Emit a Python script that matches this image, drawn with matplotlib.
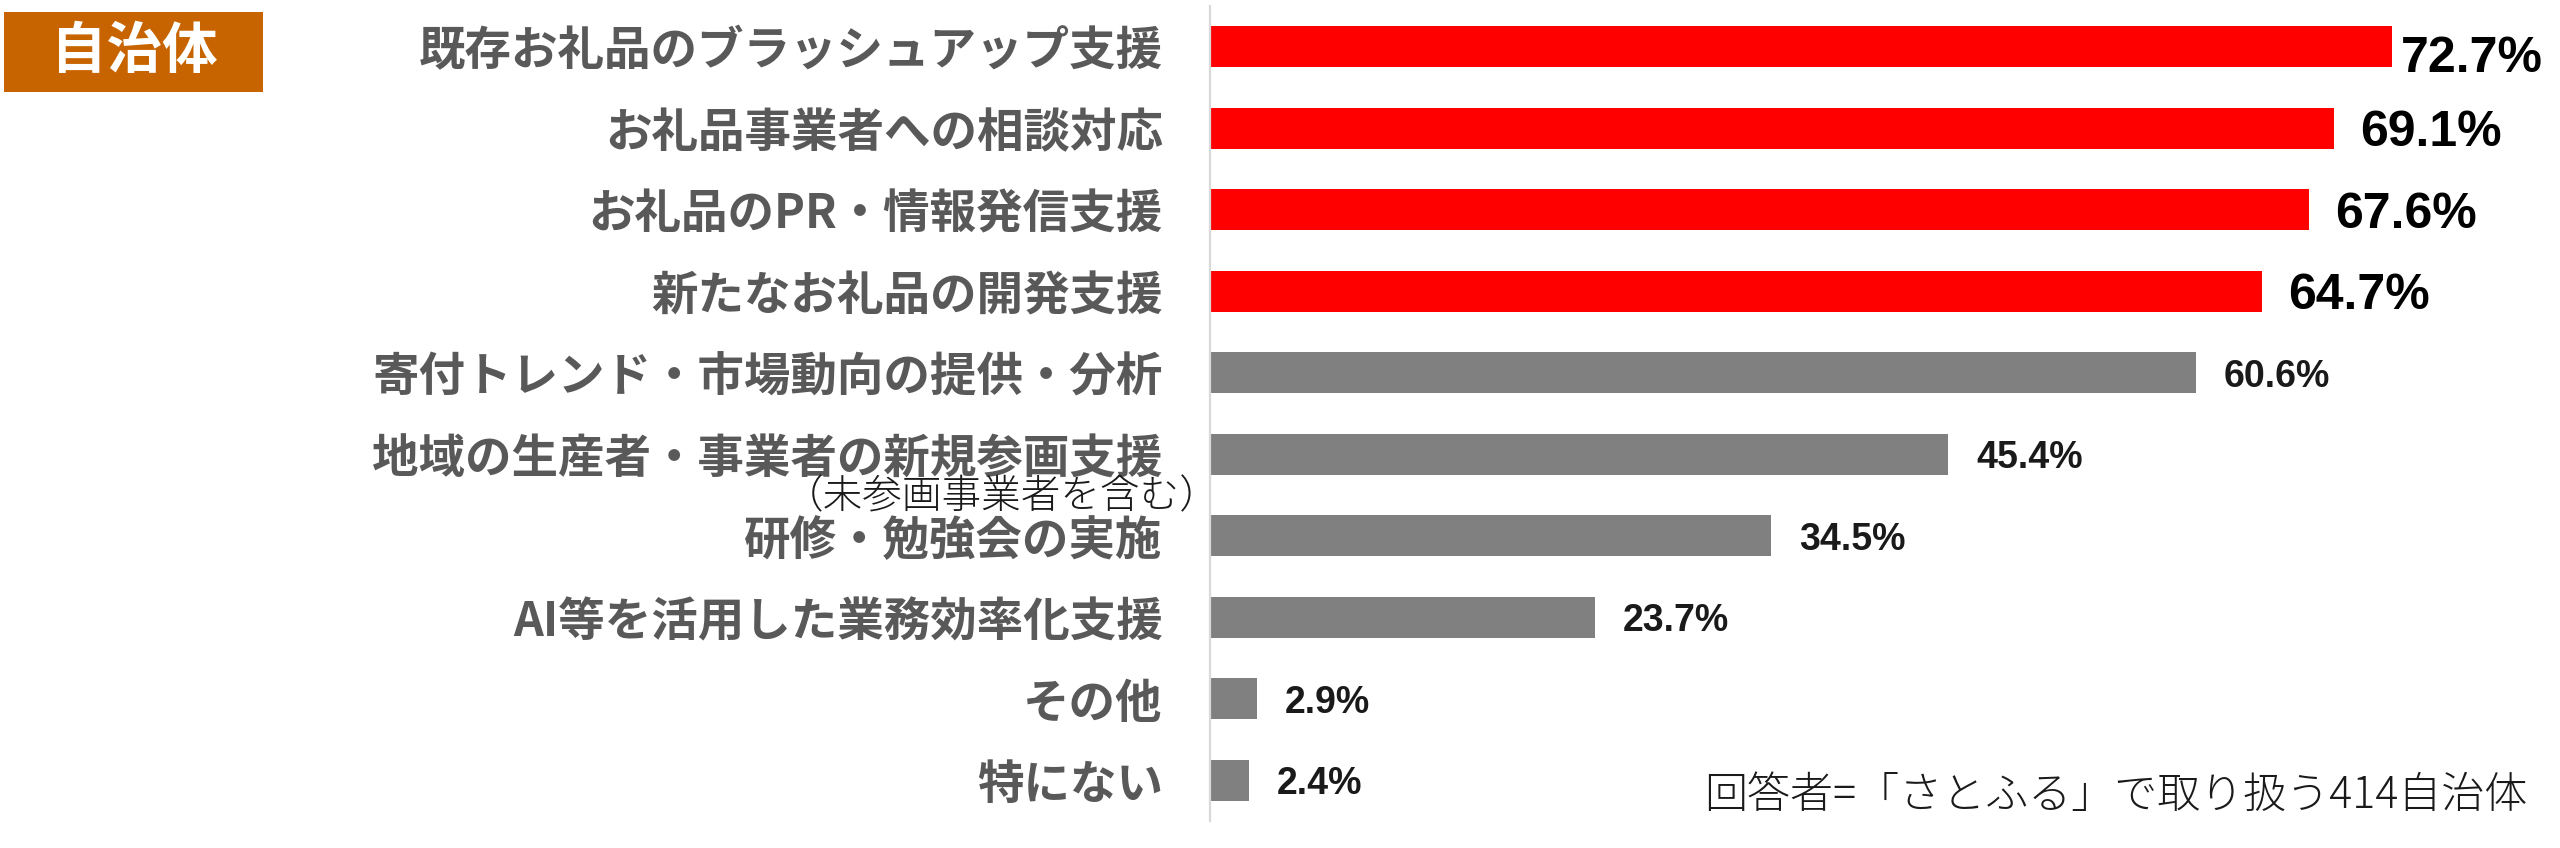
import matplotlib
matplotlib.use("Agg")
import matplotlib.pyplot as plt
from matplotlib.patches import Rectangle

plt.rcParams['font.family'] = ['Noto Sans CJK JP', 'DejaVu Sans']

categories = [
    "既存お礼品のブラッシュアップ支援",
    "お礼品事業者への相談対応",
    "お礼品のPR・情報発信支援",
    "新たなお礼品の開発支援",
    "寄付トレンド・市場動向の提供・分析",
    "地域の生産者・事業者の新規参画支援",
    "研修・勉強会の実施",
    "AI等を活用した業務効率化支援",
    "その他",
    "特にない",
]
values = [72.7, 69.1, 67.6, 64.7, 60.6, 45.4, 34.5, 23.7, 2.9, 2.4]
highlight = [True, True, True, True, False, False, False, False, False, False]
sub_note = "（未参画事業者を含む）"
title_tag = "自治体"
footnote = "回答者=「さとふる」で取り扱う414自治体"

W, H = 2560, 848
fig = plt.figure(figsize=(W / 100, H / 100), dpi=100)
fig.patch.set_facecolor("white")

ax_left, ax_right = 1210 / W, 2511 / W
ax_bottom, ax_top = 1 - 821 / H, 1 - 6 / H
ax = fig.add_axes([ax_left, ax_bottom, ax_right - ax_left, ax_top - ax_bottom])

ypos = list(range(len(categories)))
colors = ["#FF0000" if h else "#808080" for h in highlight]
ax.barh(ypos, values, height=0.5, color=colors, edgecolor="none")

ax.set_xlim(0, 80)
ax.set_ylim(len(categories) - 0.5, -0.5)
ax.set_xticks([])
ax.set_yticks(ypos)
ax.set_yticklabels(categories, fontsize=33.5, fontweight="bold", color="#595959")
ax.tick_params(axis="y", length=0, pad=34)
for s in ["top", "right", "bottom"]:
    ax.spines[s].set_visible(False)
ax.spines["left"].set_color("#D9D9D9")
ax.spines["left"].set_linewidth(1.6)

# sub note under 6th label
ax.annotate(sub_note, xy=(0, 5), xytext=(7, -31), textcoords="offset points",
            ha="right", va="center", fontsize=28.5, color="#1A1A1A",
            fontweight="light", annotation_clip=False)

# value labels
for i, (v, h) in enumerate(zip(values, highlight)):
    txt = f"{v:.1f}%"
    if h:
        dx = 6.5 if i == 0 else 18.7
        dy = -5 if i == 0 else 0
        ax.annotate(txt, xy=(v, i), xytext=(dx, dy), textcoords="offset points",
                    ha="left", va="center_baseline", fontsize=36, fontweight="bold",
                    color="black", family=["Liberation Sans", "DejaVu Sans"],
                    annotation_clip=False)
    else:
        ax.annotate(txt, xy=(v, i), xytext=(20, 0), textcoords="offset points",
                    ha="left", va="center_baseline", fontsize=27, fontweight="bold",
                    color="#1A1A1A", family=["Liberation Sans", "DejaVu Sans"],
                    annotation_clip=False)

# title tag box
fig.patches.append(Rectangle((4 / W, 1 - 92 / H), (263 - 4) / W, (92 - 12) / H,
                             transform=fig.transFigure, facecolor="#C86400",
                             edgecolor="none"))
fig.text(134 / W, 1 - 52 / H, title_tag, ha="center", va="center",
         fontsize=40, fontweight="bold", color="white")

# footnote
fig.text(2527 / W, 1 - 795 / H, footnote, ha="right", va="center",
         fontsize=31, color="#1A1A1A", fontweight="light")

fig.savefig("out.png", dpi=100, facecolor="white")
